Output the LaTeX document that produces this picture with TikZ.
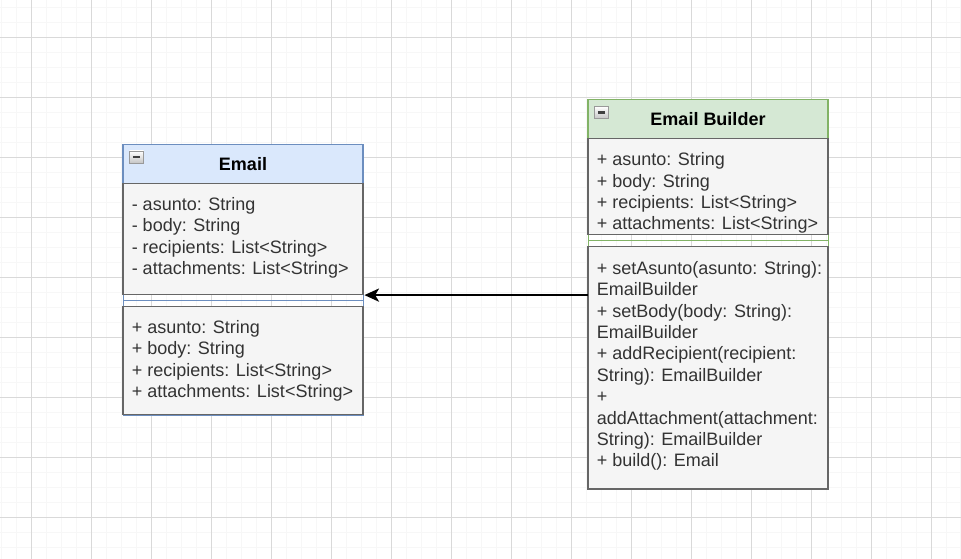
\documentclass[tikz,border=0pt]{standalone}
\usepackage{fontspec}
\setmainfont{Liberation Sans}
\usepackage{tikz}
\usetikzlibrary{arrows.meta}
\definecolor{emailfill}{HTML}{DAE8FC}
\definecolor{emailline}{HTML}{6C8EBF}
\definecolor{builderfill}{HTML}{D5E8D4}
\definecolor{builderline}{HTML}{82B366}
\definecolor{sectfill}{HTML}{F5F5F5}
\definecolor{sectline}{HTML}{666666}
\definecolor{membertext}{HTML}{333333}
\tikzstyle{frame} = [draw, line width=1.1pt, minimum width=180pt, anchor=north west, inner sep=0pt]
\tikzstyle{sect} = [draw=sectline, fill=sectfill, line width=1.1pt]
\tikzstyle{members} = [anchor=base west, align=left, inner sep=0pt, text=membertext, font=\fontsize{13.5pt}{16.05pt}\selectfont]
\tikzstyle{title} = [anchor=base, inner sep=0pt, font=\bfseries\fontsize{13.5pt}{16pt}\selectfont]
\tikzstyle{fold} = [draw=gray!80, line width=0.6pt, top color=white, bottom color=gray!45, minimum width=10.5pt, minimum height=9pt, inner sep=0pt,
  path picture={\draw[line width=1.7pt, black!75] ([xshift=-2.8pt]path picture bounding box.center) -- ([xshift=2.8pt]path picture bounding box.center);}]
\tikzstyle{arrow} = [line width=0.9pt, -{Stealth[length=11pt, width=10pt, inset=3pt]}]

\begin{document}
\begin{tikzpicture}[x=0.75pt, y=-0.75pt]
\useasboundingbox[fill=white] (0,0) rectangle (961,559);
% background grid
\begin{scope}[shift={(1,8)}]
\draw[gray!6, line width=0.75pt, step=11.25pt] (-1,-8) grid (960,551);
\end{scope}
\begin{scope}[shift={(31,38)}]
\draw[gray!30, line width=0.75pt, step=45pt] (-31,-38) grid (930,521);
\end{scope}

% Email (members are placed by the baseline of their last line)
\node[frame, draw=emailline, minimum height=202.35pt] (email) at (123,144.5) {};
\draw[emailline, fill=emailfill, line width=1.1pt] (123,144.5) rectangle (363,183.3);
\draw[sect] (123,183.3) rectangle (363,294.3);
\draw[emailline, line width=1.1pt] (123,300.7) -- (363,300.7);
\draw[sect] (123,306.7) rectangle (363,414.3);
\node[fold] (emailfold) at (136.5,157) {};
\node[title] (emailname) at (243,171) {Email};
\node[members] (emailfields) at (131.5,274.7) {- asunto: String\\- body: String\\- recipients: List<String>\\- attachments: List<String>};
\node[members] (emailops) at (131.5,397.7) {+ asunto: String\\+ body: String\\+ recipients: List<String>\\+ attachments: List<String>};

% Email Builder
\node[frame, draw=builderline, minimum height=292pt] (builder) at (588,99.7) {};
\draw[builderline, fill=builderfill, line width=1.1pt] (588,99.7) rectangle (828,138.3);
\draw[sect] (588,138.3) rectangle (828,234.3);
\draw[builderline, line width=1.1pt] (588,240.7) -- (828,240.7);
\draw[sect] (588,246.7) rectangle (828,489);
\node[fold] (builderfold) at (601.5,112.5) {};
\node[title] (buildername) at (708,126) {Email Builder};
\node[members] (builderfields) at (596.5,229.9) {+ asunto: String\\+ body: String\\+ recipients: List<String>\\+ attachments: List<String>};
\node[members] (builderops) at (596.5,467) {+ setAsunto(asunto: String):\\EmailBuilder\\+ setBody(body: String):\\EmailBuilder\\+ addRecipient(recipient:\\String): EmailBuilder\\+\\addAttachment(attachment:\\String): EmailBuilder\\+ build(): Email};

\draw[arrow] (builder.west) -- (builder.west -| email.east);
\end{tikzpicture}
\end{document}
